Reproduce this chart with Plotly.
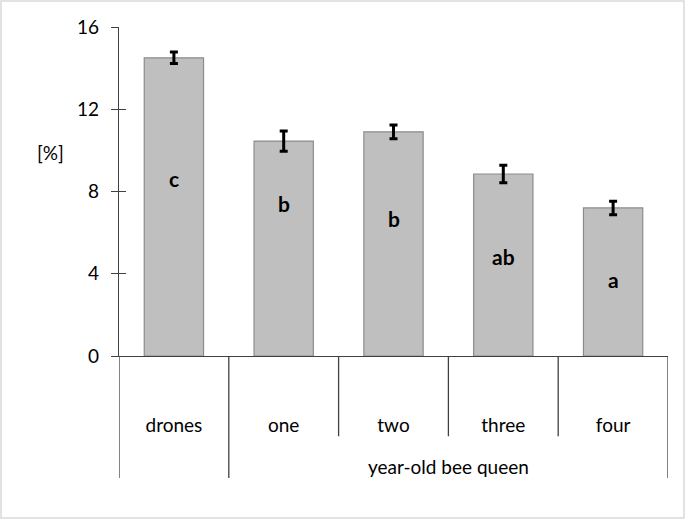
import plotly.graph_objs as go

# values
categories = ['drones', 'one', 'two', 'three', 'four']
group_label = 'year-old bee queen'
mean_pct = [14.5, 10.45, 10.9, 8.85, 7.2]
err_pct = [0.28, 0.49, 0.34, 0.43, 0.33]
letters = ['c', 'b', 'b', 'ab', 'a']
y_ticks = [0, 4, 8, 12, 16]

W, H = 685, 520
L, R, T, B = 119, 17, 27, 164
pw, ph = W - L - R, H - T - B

FONT = 'Lato'
AX = '#404040'

xs = list(range(len(categories)))

bars = go.Bar(x=xs, y=mean_pct, width=0.54,
              marker=dict(color='#bfbfbf', line=dict(color='#8c8c8c', width=1.2)),
              error_y=dict(type='data', array=err_pct, color='black', thickness=3, width=4),
              showlegend=False, hoverinfo='skip')

# letters inside bars (vertical placement tweaked by eye)
letter_y = [0.595, 0.71, 0.615, 0.545, 0.52]
annos = []
for i, (m, lt, f) in enumerate(zip(mean_pct, letters, letter_y)):
    annos.append(dict(x=i, y=m * f, xref='x', yref='y', text='<b>%s</b>' % lt,
                      showarrow=False, font=dict(family=FONT, size=21, color='black')))

annos.append(dict(x=(1 + 4) / 2, y=-0.337, xref='x', yref='paper', yanchor='middle',
                  text=group_label, showarrow=False,
                  font=dict(family=FONT, size=19, color='black')))
annos.append(dict(x=-(L - 50) / pw, y=1 - (152 - T) / ph, xref='paper', yref='paper',
                  xanchor='center', yanchor='middle', text='[%]', showarrow=False,
                  font=dict(family=FONT, size=19, color='black')))

shapes = []
# category dividers below the axis
for b in [-0.5, 0.5, 4.5]:
    shapes.append(dict(type='line', xref='x', yref='paper', x0=b, x1=b, y0=0, y1=-0.371,
                       line=dict(color=AX, width=1.3)))
for b in [1.5, 2.5, 3.5]:
    shapes.append(dict(type='line', xref='x', yref='paper', x0=b, x1=b, y0=0, y1=-0.244,
                       line=dict(color=AX, width=1.3)))
# outer light border
shapes.append(dict(type='rect', xref='paper', yref='paper',
                   x0=-(L - 1) / pw, x1=1 + (R - 1) / pw, y0=-(B - 2) / ph, y1=1 + (T - 1) / ph,
                   line=dict(color='#d9d9d9', width=1.5), layer='below'))

layout = go.Layout(
    width=W, height=H,
    margin=dict(l=L, r=R, t=T, b=B),
    paper_bgcolor='white', plot_bgcolor='white',
    font=dict(family=FONT, size=19, color='black'),
    xaxis=dict(range=[-0.5, 4.5], tickvals=xs, ticktext=categories, ticks='',
               showgrid=False, zeroline=False, showline=True, linecolor=AX, linewidth=1.3,
               ticklabelstandoff=52, tickfont=dict(size=19)),
    yaxis=dict(range=[0, 16], tickvals=y_ticks, ticks='outside', ticklen=7, tickwidth=1.3,
               tickcolor=AX, showgrid=False, zeroline=False, showline=True, linecolor=AX,
               linewidth=1.3, ticklabelstandoff=8, tickfont=dict(size=19)),
    # second axis only to draw the inner half of the crossing ticks
    yaxis2=dict(range=[0, 16], tickvals=y_ticks, ticks='inside', ticklen=7, tickwidth=1.3,
                tickcolor=AX, showticklabels=False, showgrid=False, zeroline=False,
                overlaying='y', side='left', showline=False),
    annotations=annos,
    shapes=shapes,
)

helper = go.Scatter(x=[0], y=[0], yaxis='y2', mode='markers', marker=dict(opacity=0),
                    showlegend=False, hoverinfo='skip')

fig = go.Figure(data=[bars, helper], layout=layout)
fig.write_html('out.html', config={'displayModeBar': False},
               post_script="document.body.style.margin='0';")
